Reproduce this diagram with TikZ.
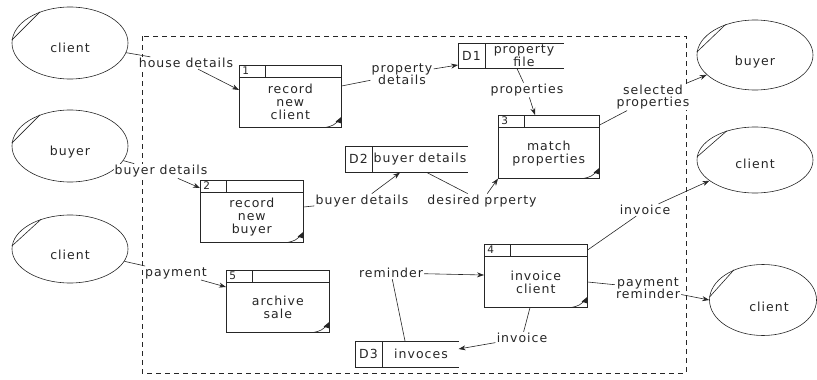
\documentclass[tikz,border=0pt]{standalone}
\usepackage{fontspec}
\setmainfont{DejaVu Sans}[LetterSpace=8]
\usetikzlibrary{shapes.geometric,arrows.meta}
\tikzset{
  ext/.style={ellipse, draw, inner sep=0pt},
  pbox/.style={draw, anchor=north west, inner sep=0pt},
  dstore/.style={anchor=north west, inner sep=0pt},
  lbl/.style={fill=white, inner sep=1pt, align=center, font=\fontsize{12.5}{12.5}\selectfont},
  btxt/.style={inner sep=0pt, align=center, font=\fontsize{12.5}{13}\selectfont},
  ntxt/.style={inner sep=0pt, font=\fontsize{10.5}{11}\selectfont},
  arr/.style={-{Stealth[length=7pt,width=5pt]}},
}
\newcommand\mkproc[6]{%
  \node[pbox, minimum width=#4pt, minimum height=#5pt] (#1) at (#2,#3) {};
  \draw ([yshift=-12pt]#1.north west) -- ([yshift=-12pt]#1.north east);
  \draw ([xshift=26pt]#1.north west) -- ([xshift=26pt,yshift=-12pt]#1.north west);
  \node[ntxt, anchor=west] (#1n) at ([xshift=3pt,yshift=-6pt]#1.north west) {#6};
  \draw ([xshift=-17pt]#1.south east) .. controls ([xshift=-8pt,yshift=2pt]#1.south east) .. ([xshift=-1pt,yshift=9pt]#1.south east);
  \fill ([xshift=-6pt,yshift=6pt]#1.south east) -- ([yshift=11pt]#1.south east) -- ([yshift=4pt]#1.south east) -- cycle;
}
\newcommand\mkstore[6]{%
  \node[dstore, minimum width=#4pt, minimum height=#5pt] (#1) at (#2,#3) {};
  \draw (#1.north east) -- (#1.north west) -- (#1.south west) -- (#1.south east);
  \draw ([xshift=27pt]#1.north west) -- ([xshift=27pt]#1.south west);
  \node[btxt] (#1n) at ([xshift=13.5pt]#1.west) {#6};
}
\begin{document}
\begin{tikzpicture}[x=1pt,y=-1pt,line width=0.6pt,draw=black!85,fill=black!85,text=black!85]
\useasboundingbox (0,0) rectangle (817,380);
% system boundary
\draw[dash pattern=on 5pt off 4pt, line width=0.7pt] (142,36) rectangle (686,373);

% external entities
\node[ext, minimum width=116pt, minimum height=72pt, label={[btxt,yshift=-5pt]center:client}] (c1) at (70,43) {};
\node[ext, minimum width=116pt, minimum height=72pt, label={[btxt,yshift=-6pt]center:buyer}] (b1) at (70,146) {};
\node[ext, minimum width=116pt, minimum height=68pt, label={[btxt,yshift=-6pt]center:client}] (c2) at (70,249) {};
\node[ext, minimum width=116pt, minimum height=70pt, label={[btxt,yshift=-7pt]center:buyer}] (b2) at (755,55) {};
\node[ext, minimum width=116pt, minimum height=66pt, label={[btxt,yshift=-4pt]center:client}] (c3) at (755,160) {};
\node[ext, minimum width=107pt, minimum height=71pt, label={[btxt,xshift=6pt,yshift=-7pt]center:client}] (c4) at (763,300) {};
\foreach \e in {c1,b1,c2,b2,c3,c4} { \draw (\e.177) -- (\e.134); }

% processes
\mkproc{p1}{239}{65}{102}{62}{1}
\mkproc{p2}{200}{180}{103}{62}{2}
\mkproc{p3}{498}{115}{101}{63}{3}
\mkproc{p4}{484}{244}{103}{63}{4}
\mkproc{p5}{226}{270}{103}{62}{5}
\node[btxt] (p1t) at ([yshift=-6pt]p1.center) {record\\new\\client};
\node[btxt] (p2t) at ([yshift=-6pt]p2.center) {record\\new\\buyer};
\node[btxt] (p3t) at ([yshift=-7pt]p3.center) {match\\properties};
\node[btxt] (p4t) at ([yshift=-7pt]p4.center) {invoice\\client};
\node[btxt] (p5t) at ([yshift=-6pt]p5.center) {archive\\sale};

% data stores
\mkstore{d1}{458}{43}{105}{25}{D1}
\mkstore{d2}{345}{146}{122}{26}{D2}
\mkstore{d3}{355}{341}{103}{26}{D3}
\node[btxt, font=\fontsize{12.5}{12}\selectfont] (d1t) at (524,55.5) {property\\file};
\node[btxt] (d2t) at (420,159) {buyer details};
\node[btxt] (d3t) at (421,354) {invoces};

% flow labels
\node[lbl] (l1) at (186,63) {house details};
\node[lbl] (l2) at (402,74) {property\\details};
\node[lbl] (l3) at (527,90) {properties};
\node[lbl] (l4) at (653,97) {selected\\properties};
\node[lbl] (l5) at (161,171) {buyer details};
\node[lbl] (l6) at (362,201) {buyer details};
\node[lbl] (l7) at (482,201) {desired prperty};
\node[lbl] (l8) at (645,210) {invoice};
\node[lbl] (l9) at (648,288) {payment\\reminder};
\node[lbl] (l10) at (391,273) {reminder};
\node[lbl] (l11) at (522,338) {invoice};
\node[lbl] (l12) at (176,273) {payment};

% flows
\draw (c1) -- (l1);
\draw[arr] (l1) -- ([yshift=-25pt]p1.north west);
\draw ([yshift=-21pt]p1.north east) -- (l2);
\draw[arr] (l2) -- ([yshift=-22pt]d1.north west);
\draw ([xshift=59pt]d1.south west) -- (l3);
\draw[arr] (l3) -- ([xshift=37pt]p3.north west);
\draw ([yshift=-10pt]p3.north east) -- (l4);
\draw[arr] (l4) -- (b2);
\draw (b1) -- (l5);
\draw[arr] (l5) -- ([yshift=-8pt]p2.north west);
\draw ([yshift=-27pt]p2.north east) -- (l6);
\draw[arr] (l6) -- ([xshift=55pt]d2.south west);
\draw ([xshift=82pt]d2.south west) -- (l7);
\draw[arr] (l7) -- (p3.south west);
\draw ([yshift=-6pt]p4.north east) -- (l8);
\draw[arr] (l8) -- (c3);
\draw ([yshift=-38pt]p4.north east) -- (l9);
\draw[arr] (l9) -- (c4.west);
\draw ([xshift=50pt]d3.north west) -- (l10);
\draw[arr] (l10) -- ([yshift=-31pt]p4.north west);
\draw ([xshift=46pt]p4.south west) -- (l11);
\draw[arr] (l11) -- ([yshift=-8pt]d3.north east);
\draw (c2) -- (l12);
\draw[arr] (l12) -- ([yshift=-17pt]p5.north west);
\end{tikzpicture}
\end{document}
